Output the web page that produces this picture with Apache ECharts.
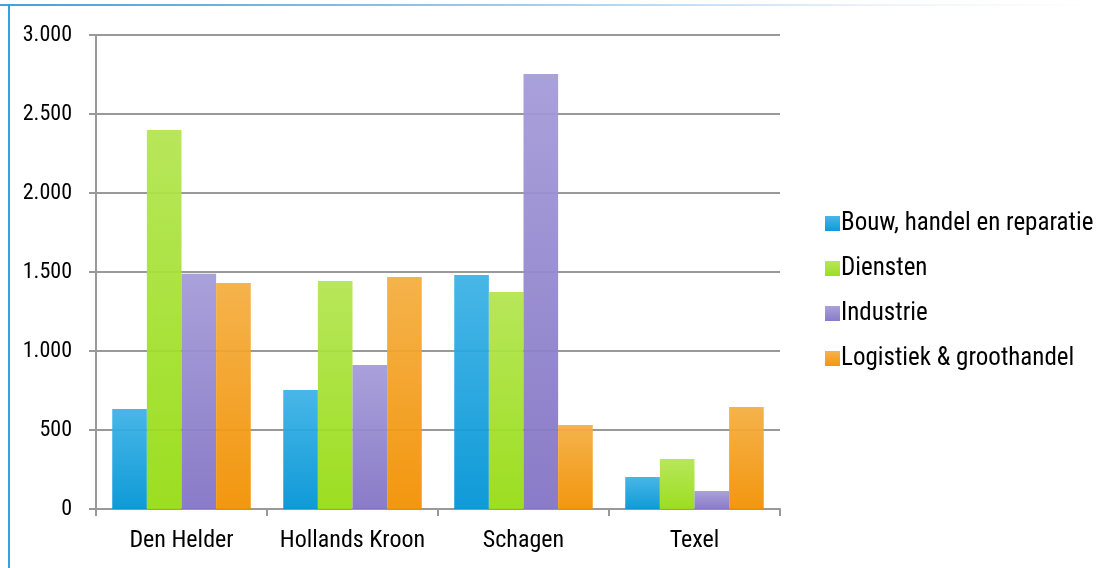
<!DOCTYPE html>
<html>
<head>
<meta charset="utf-8">
<script src="https://cdn.jsdelivr.net/npm/echarts@6/dist/echarts.min.js"></script>
<style>html,body{margin:0;padding:0;background:#fff;}#c{width:1097px;height:568px;}</style>
</head>
<body>
<div id="c"></div>
<script>
var categories = ['Den Helder', 'Hollands Kroon', 'Schagen', 'Texel'];
var seriesNames = ['Bouw, handel en reparatie', 'Diensten', 'Industrie', 'Logistiek & groothandel'];
var bouw = [633, 753, 1481, 203];
var diensten = [2399, 1443, 1373, 316];
var industrie = [1489, 911, 2753, 114];
var logistiek = [1430, 1468, 532, 646];
var yTicks = [0, 500, 1000, 1500, 2000, 2500, 3000];

var FONT = '"Liberation Sans Narrow", "Roboto Condensed", "Arial Narrow", sans-serif';
function grad(top, bottom) {
  return new echarts.graphic.LinearGradient(0, 0, 0, 1, [
    {offset: 0, color: top}, {offset: 1, color: bottom}
  ]);
}
var colors = [
  grad('#3db2e6', '#0094d5'),
  grad('#b3e550', '#96dc12'),
  grad('#a49bd8', '#8273c4'),
  grad('#f4ae40', '#f29000')
];
var dataSets = [bouw, diensten, industrie, logistiek];

var chart = echarts.init(document.getElementById('c'), null, {renderer: 'canvas'});
chart.setOption({
  animation: false,
  backgroundColor: '#fff',
  textStyle: {fontFamily: FONT},
  graphic: [
    {type: 'rect', shape: {x: 0, y: 4, width: 1097, height: 2}, style: {fill: new echarts.graphic.LinearGradient(0, 0, 1, 0, [
      {offset: 0, color: '#45a0dd'}, {offset: 0.45, color: '#9cc9ec'}, {offset: 0.8, color: '#eef3fb'}, {offset: 1, color: '#ffffff'}
    ])}, z: 100},
    {type: 'rect', shape: {x: 8, y: 4, width: 2, height: 564}, style: {fill: '#2fa4e1'}, z: 100}
  ],
  grid: {left: 96, right: 317, top: 35, bottom: 59, containLabel: false},
  legend: {
    orient: 'vertical',
    left: 820,
    top: 206,
    itemWidth: 15,
    itemHeight: 15,
    itemGap: 20,
    icon: 'rect',
    data: seriesNames,
    textStyle: {fontFamily: FONT, fontSize: 25, color: '#000', lineHeight: 24, padding: [0, 0, 0, -4]}
  },
  xAxis: {
    type: 'category',
    data: categories,
    axisLine: {lineStyle: {color: '#999', width: 2}},
    axisTick: {show: true, interval: 0, length: 7, lineStyle: {color: '#999', width: 2}},
    axisLabel: {interval: 0, fontFamily: FONT, fontSize: 24, color: '#000', margin: 20}
  },
  yAxis: {
    type: 'value',
    min: yTicks[0],
    max: yTicks[yTicks.length - 1],
    interval: 500,
    axisLine: {show: true, lineStyle: {color: '#999', width: 2}},
    axisTick: {show: true, length: 7, lineStyle: {color: '#999', width: 2}},
    splitLine: {show: true, lineStyle: {color: '#999', width: 2}},
    axisLabel: {
      fontFamily: FONT, fontSize: 22, color: '#000', margin: 24,
      formatter: function (v) { return String(v).replace(/\B(?=(\d{3})+(?!\d))/g, '.'); }
    }
  },
  series: seriesNames.map(function (n, i) {
    return {
      name: n,
      type: 'bar',
      data: dataSets[i],
      barGap: '0%',
      barCategoryGap: '19%',
      itemStyle: {color: colors[i], opacity: 0.94}
    };
  })
});
</script>
</body>
</html>
